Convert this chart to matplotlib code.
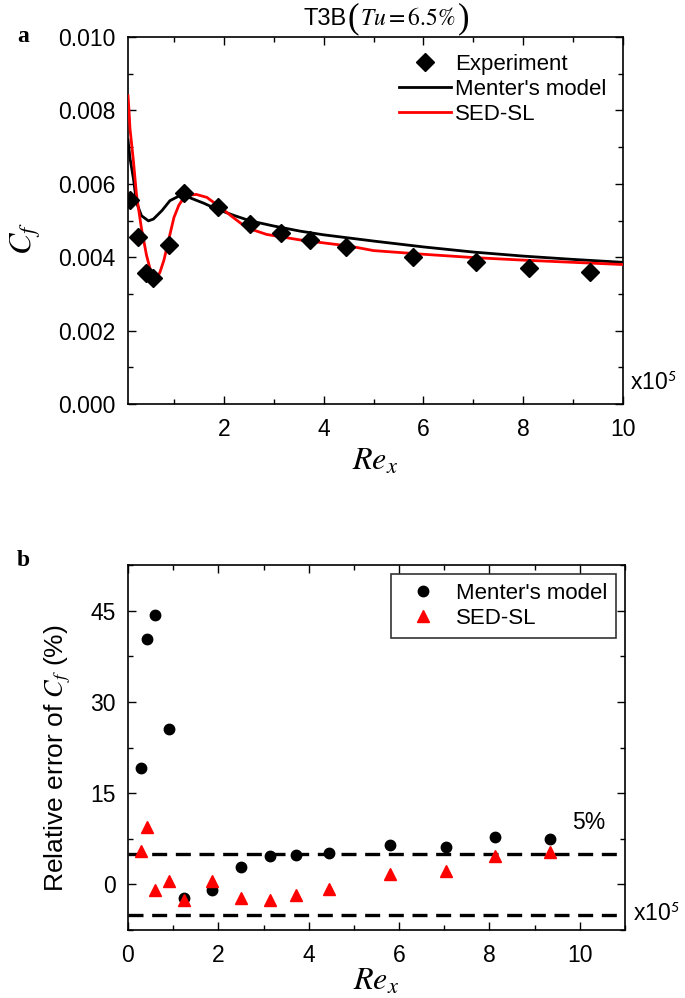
import matplotlib
matplotlib.use("Agg")
import matplotlib.pyplot as plt
from matplotlib.ticker import MultipleLocator, FormatStrFormatter

plt.rcParams['font.family'] = ['Liberation Sans', 'DejaVu Sans']
plt.rcParams['mathtext.fontset'] = 'stix'

# ---- Panel a data: skin friction coefficient ----
exp_x = [0.13, 0.28, 0.44, 0.58, 0.90, 1.21, 1.89, 2.52, 3.15, 3.72, 4.44, 5.79, 7.05, 8.11, 9.34]
exp_cf = [0.00557, 0.00454, 0.00357, 0.00343, 0.00433, 0.00576, 0.00536, 0.00491, 0.00466,
          0.00446, 0.00428, 0.00401, 0.00387, 0.00371, 0.00360]

menter_x = [0.08, 0.12, 0.19, 0.25, 0.35, 0.49, 0.59, 0.76, 0.92, 1.12, 1.32, 1.6, 1.86, 2.2,
            2.53, 3.0, 3.53, 4.0, 4.53, 5.0, 6.0, 7.0, 8.0, 9.0, 10.0]
menter_cf = [0.0072, 0.0067, 0.00613, 0.00549, 0.00513, 0.00499, 0.00504, 0.00527, 0.00554,
             0.00568, 0.00562, 0.00547, 0.00531, 0.00514, 0.00499, 0.00485, 0.00471, 0.00461,
             0.00452, 0.00444, 0.00428, 0.00414, 0.00403, 0.00394, 0.00386]

sed_x = [0.08, 0.10, 0.12, 0.19, 0.25, 0.35, 0.45, 0.53, 0.59, 0.65, 0.72, 0.80, 0.90, 1.00,
         1.10, 1.19, 1.30, 1.45, 1.66, 1.92, 2.19, 2.46, 2.86, 3.53, 4.53, 5.0, 6.0, 7.0, 8.0,
         9.0, 10.0]
sed_cf = [0.0084, 0.0080, 0.0075, 0.0066, 0.0057, 0.00478, 0.00406, 0.00364, 0.00342, 0.00340,
          0.00359, 0.00392, 0.00450, 0.00508, 0.00542, 0.00560, 0.00569, 0.00571, 0.00563,
          0.00537, 0.00508, 0.00480, 0.00462, 0.00447, 0.00430, 0.00418, 0.00408, 0.00399,
          0.00392, 0.00386, 0.00380]

# ---- Panel b data: relative error (%) ----
err_x = [0.28, 0.43, 0.60, 0.91, 1.23, 1.87, 2.50, 3.14, 3.72, 4.45, 5.80, 7.04, 8.12, 9.35]
err_menter = [19.1, 40.3, 44.3, 25.5, -2.2, -0.9, 2.8, 4.65, 4.9, 5.1, 6.5, 6.2, 7.8, 7.4]
err_sed = [5.5, 9.5, -0.9, 0.5, -2.6, 0.5, -2.3, -2.5, -1.8, -0.7, 1.7, 2.2, 4.6, 5.4]
band = [5, -5]

W, H = 685, 998
fig = plt.figure(figsize=(W / 100, H / 100), dpi=100)
FS = 16.5

def px_axes(l, t, r, b):
    return fig.add_axes([l / W, 1 - b / H, (r - l) / W, (b - t) / H])

def style(ax):
    ax.tick_params(which='both', direction='in', top=True, right=True, labelsize=FS, width=1.0)
    ax.tick_params(which='major', length=6)
    ax.tick_params(which='minor', length=3.5)
    ax.tick_params(axis='x', which='both', pad=10)
    ax.tick_params(axis='y', which='both', pad=9)
    for s in ax.spines.values():
        s.set_linewidth(1.2)

# ---------- Panel a ----------
ax1 = px_axes(128, 37, 623, 404)
ax1.plot(menter_x, menter_cf, color='black', lw=2.0, label="Menter's model", zorder=2)
ax1.plot(sed_x, sed_cf, color='#ff0000', lw=2.0, label='SED-SL', zorder=3)
ax1.plot(exp_x, exp_cf, linestyle='none', marker='D', ms=9.5, color='black',
         label='Experiment', zorder=4)
ax1.set_xlim(0.08, 10)
ax1.set_ylim(0, 0.010)
ax1.xaxis.set_major_locator(MultipleLocator(2))
ax1.xaxis.set_minor_locator(MultipleLocator(1))
ax1.yaxis.set_major_locator(MultipleLocator(0.002))
ax1.yaxis.set_minor_locator(MultipleLocator(0.001))
ax1.yaxis.set_major_formatter(FormatStrFormatter('%.3f'))
style(ax1)
ax1.set_xlabel(r'$Re_x$', fontsize=23, labelpad=4)
ax1.set_ylabel(r'$C_f$', fontsize=23)
ax1.yaxis.set_label_coords(-0.172, 0.45)

# title built from pieces: sans "T3B", tall serif parentheses, italic math
t1 = fig.text(303 / W, 1 - 19 / H, 'T3B', fontsize=17, ha='left', va='center')
p1 = ax1.annotate('(', xy=(1, 0.5), xycoords=t1, xytext=(1, 0), textcoords='offset points',
                  fontsize=25, family='Liberation Serif', ha='left', va='center')
p2 = ax1.annotate(r'$Tu=6.5\%$', xy=(1, 0.5), xycoords=p1, xytext=(1, 0),
                  textcoords='offset points', fontsize=17, ha='left', va='center')
p3 = ax1.annotate(')', xy=(1, 0.5), xycoords=p2, xytext=(1, 0), textcoords='offset points',
                  fontsize=25, family='Liberation Serif', ha='left', va='center')

h, l = ax1.get_legend_handles_labels()
order = [2, 0, 1]
ax1.legend([h[i] for i in order], [l[i] for i in order], loc='upper right', frameon=False,
           fontsize=16, handlelength=2.3, handletextpad=0.2, labelspacing=0.18,
           borderaxespad=0.35, bbox_to_anchor=(1.0, 1.0))
fig.text(630 / W, 1 - 383 / H, r'x10$^{\mathsf{5}}$', fontsize=FS, ha='left', va='center')
fig.text(17 / W, 1 - 36 / H, 'a', fontsize=17, fontweight='bold', family='Liberation Serif',
         ha='left', va='center')

# ---------- Panel b ----------
ax2 = px_axes(128, 565, 625, 930)
for yv in band:
    ax2.axhline(yv, color='black', lw=2.4, dashes=(4.5, 2.6), zorder=1)
ax2.plot(err_x, err_menter, linestyle='none', marker='o', ms=7.5, color='black',
         label="Menter's model", zorder=3)
ax2.plot(err_x, err_sed, linestyle='none', marker='^', ms=8.5, color='#ff0000',
         label='SED-SL', zorder=4)
ax2.set_xlim(0, 11)
ax2.set_ylim(-7.5, 52.5)
ax2.xaxis.set_major_locator(MultipleLocator(2))
ax2.xaxis.set_minor_locator(MultipleLocator(1))
ax2.yaxis.set_major_locator(MultipleLocator(15))
ax2.yaxis.set_minor_locator(MultipleLocator(7.5))
style(ax2)
ax2.set_xlabel(r'$Re_x$', fontsize=23, labelpad=0)
ax2.set_ylabel(r'Relative error of $C_f$ (%)', fontsize=19)
ax2.yaxis.set_label_coords(-0.11, 0.47)
leg = ax2.legend(loc='upper right', frameon=True, fancybox=False, fontsize=16,
                 handletextpad=0.5, labelspacing=0.2, borderaxespad=0.4, borderpad=0.4,
                 handlelength=2.0)
leg.get_frame().set_edgecolor('black')
leg.get_frame().set_linewidth(1.2)
ax2.text(10.2, 10.2, '5%', fontsize=FS, ha='center', va='center')
fig.text(633 / W, 1 - 914 / H, r'x10$^{\mathsf{5}}$', fontsize=FS, ha='left', va='center')
fig.text(17 / W, 1 - 561 / H, 'b', fontsize=17, fontweight='bold', family='Liberation Serif',
         ha='left', va='center')

fig.savefig('out.png', dpi=100)
